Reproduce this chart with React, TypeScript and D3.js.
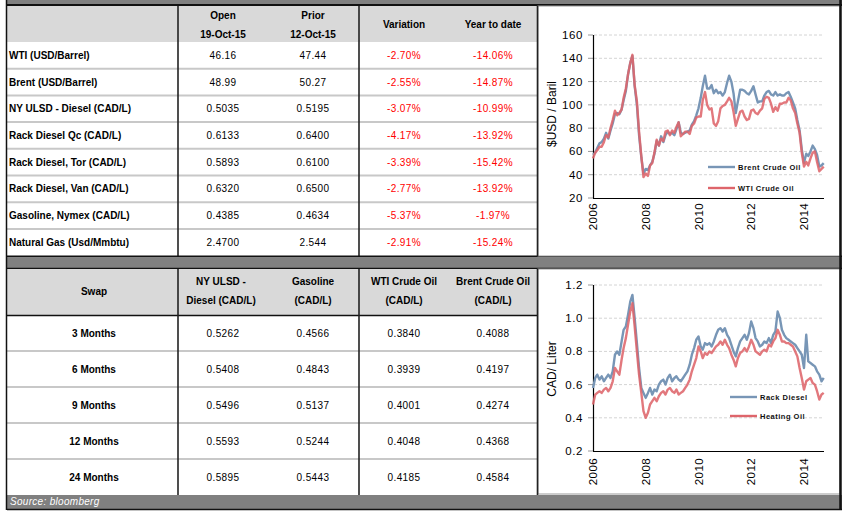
import React from "react";
import * as d3 from "d3";

// ---------- table data ----------
const priceNames = [
  "WTI (USD/Barrel)",
  "Brent (USD/Barrel)",
  "NY ULSD - Diesel (CAD/L)",
  "Rack Diesel Qc (CAD/L)",
  "Rack Diesel, Tor (CAD/L)",
  "Rack Diesel, Van (CAD/L)",
  "Gasoline, Nymex (CAD/L)",
  "Natural Gas (Usd/Mmbtu)",
];
const openValues = ["46.16", "48.99", "0.5035", "0.6133", "0.5893", "0.6320", "0.4385", "2.4700"];
const priorValues = ["47.44", "50.27", "0.5195", "0.6400", "0.6100", "0.6500", "0.4634", "2.544"];
const variationValues = ["-2.70%", "-2.55%", "-3.07%", "-4.17%", "-3.39%", "-2.77%", "-5.37%", "-2.91%"];
const ytdValues = ["-14.06%", "-14.87%", "-10.99%", "-13.92%", "-15.42%", "-13.92%", "-1.97%", "-15.24%"];
const priceHeaders = [["Open", "19-Oct-15"], ["Prior", "12-Oct-15"], ["Variation"], ["Year to date"]];

const swapTerms = ["3 Months", "6 Months", "9 Months", "12 Months", "24 Months"];
const swapUlsd = ["0.5262", "0.5408", "0.5496", "0.5593", "0.5895"];
const swapGasoline = ["0.4566", "0.4843", "0.5137", "0.5244", "0.5443"];
const swapWti = ["0.3840", "0.3939", "0.4001", "0.4048", "0.4185"];
const swapBrent = ["0.4088", "0.4197", "0.4274", "0.4368", "0.4584"];
const swapHeaders = [["NY ULSD -", "Diesel (CAD/L)"], ["Gasoline", "(CAD/L)"], ["WTI Crude Oil", "(CAD/L)"], ["Brent Crude Oil", "(CAD/L)"]];

// ---------- chart data (monthly, starting Jan 2006 on the chart axis) ----------
const brent = [
  57, 59, 63, 67, 68, 71, 76, 71, 78, 84, 92, 93,
  92, 96, 104, 112, 126, 136, 142, 116, 100, 74, 55, 41,
  45, 44, 48, 51, 58, 69, 65, 73, 68, 74, 77, 75,
  76, 74, 79, 85, 76, 75, 76, 77, 78, 83, 86, 91,
  97, 106, 116, 125, 114, 114, 117, 110, 113, 110, 111, 108,
  111, 119, 125, 120, 110, 93, 103, 113, 113, 112, 110, 109,
  112, 116, 109, 102, 103, 103, 108, 111, 112, 109, 108, 111,
  108, 109, 108, 108, 110, 111, 107, 102, 97, 87, 78, 62,
  50, 58, 56, 60, 65, 62, 57, 47, 48, 50,
];
const wti = [
  54, 59, 61, 64, 64, 68, 74, 72, 80, 87, 95, 91,
  93, 96, 106, 114, 126, 136, 143, 117, 103, 77, 56, 38,
  41, 39, 48, 50, 59, 70, 65, 71, 69, 77, 78, 74,
  78, 76, 81, 85, 73, 75, 77, 77, 75, 82, 84, 89,
  90, 90, 104, 111, 100, 96, 97, 84, 82, 86, 97, 99,
  100, 103, 106, 103, 94, 82, 88, 94, 95, 90, 87, 88,
  95, 96, 93, 92, 95, 97, 105, 107, 106, 101, 94, 98,
  95, 101, 101, 102, 102, 106, 104, 97, 93, 84, 76, 59,
  47, 51, 48, 54, 59, 60, 51, 43, 45, 47,
];
const rackDiesel = [
  0.58, 0.64, 0.66, 0.63, 0.65, 0.62, 0.64, 0.66, 0.64, 0.68, 0.78, 0.80,
  0.78, 0.86, 0.93, 0.95, 1.02, 1.10, 1.14, 1.00, 0.85, 0.70, 0.58, 0.55,
  0.52, 0.55, 0.58, 0.54, 0.57, 0.56, 0.60, 0.62, 0.63, 0.60, 0.64, 0.66,
  0.62, 0.64, 0.65, 0.63, 0.62, 0.64, 0.66, 0.68, 0.72, 0.78, 0.82, 0.87,
  0.89, 0.83, 0.81, 0.85, 0.84, 0.85, 0.83, 0.86, 0.90, 0.93, 0.94, 0.92,
  0.94, 0.90, 0.88, 0.84, 0.80, 0.77, 0.82, 0.86, 0.88, 0.90, 0.87, 0.91,
  0.98, 0.94, 0.88, 0.86, 0.83, 0.84, 0.86, 0.85, 0.88, 0.85, 0.90, 0.92,
  1.04, 1.00, 0.93, 0.90, 0.88, 0.87, 0.86, 0.85, 0.84, 0.82, 0.80, 0.78,
  0.70, 0.90, 0.74, 0.73, 0.72, 0.71, 0.68, 0.66, 0.62, 0.64,
];
const heatingOil = [
  0.48, 0.54, 0.55, 0.56, 0.55, 0.57, 0.58, 0.56, 0.58, 0.62, 0.70, 0.68,
  0.66, 0.75, 0.82, 0.88, 0.96, 1.04, 1.09, 0.95, 0.80, 0.66, 0.55, 0.44,
  0.40, 0.43, 0.48, 0.50, 0.52, 0.50, 0.53, 0.55, 0.56, 0.54, 0.57, 0.58,
  0.56, 0.55, 0.57, 0.54, 0.55, 0.56, 0.58, 0.60, 0.63, 0.68, 0.72, 0.76,
  0.83, 0.80, 0.76, 0.79, 0.78, 0.80, 0.79, 0.81, 0.83, 0.84, 0.86, 0.84,
  0.87, 0.84, 0.82, 0.78, 0.75, 0.71, 0.76, 0.79, 0.80, 0.82, 0.80, 0.83,
  0.87, 0.84, 0.80, 0.79, 0.78, 0.80, 0.81, 0.80, 0.84, 0.83, 0.86, 0.88,
  0.93, 0.90, 0.86, 0.86, 0.85, 0.85, 0.84, 0.83, 0.80, 0.77, 0.70, 0.64,
  0.57, 0.62, 0.63, 0.64, 0.61, 0.60, 0.56, 0.51, 0.54, 0.55,
];
const xTickYears = [2006, 2008, 2010, 2012, 2014];
const topYTicks = [20, 40, 60, 80, 100, 120, 140, 160];
const bottomYTicks = [0.2, 0.4, 0.6, 0.8, 1.0, 1.2];
const topLegend = ["Brent Crude Oil", "WTI Crude Oil"];
const bottomLegend = ["Rack Diesel", "Heating Oil"];

const FONT = "'Liberation Sans', Arial, sans-serif";
const BLUE = "#7896b6";
const RED = "#de656b";

type ChartProps = {
  top: number;
  height: number;
  yDomain: [number, number];
  yRange: [number, number];
  yTicks: number[];
  fmt: (v: number) => string;
  s1: number[];
  s2: number[];
  legend: string[];
  legendY: [number, number];
  legendX: number;
  yLabel: string;
  yLabelCenter: number;
  xLabelY: number;
};

function LineChart(p: ChartProps) {
  const x = d3
    .scaleTime()
    .domain([new Date(2006, 0, 1), new Date(2014, 0, 1)])
    .range([593, 804]);
  const y = d3.scaleLinear().domain(p.yDomain).range(p.yRange);
  const dates = p.s1.map((_, i) => new Date(2006, i, 1));
  const line = d3
    .line<number>()
    .x((_, i) => x(dates[i]))
    .y((d) => y(d))
    .curve(d3.curveLinear);
  const xRight = 824;
  const yBottom = p.yRange[0];
  const yTop = p.yRange[1];
  return (
    <g>
      <rect x={538} y={p.top} width={302} height={p.height} fill="#fff" stroke="#9a9a9a" strokeWidth={1} />
      {p.yTicks.slice(1).map((t) => (
        <line key={"g" + t} x1={594} x2={xRight} y1={y(t)} y2={y(t)} stroke="#d4d4d4" strokeDasharray="3,2" strokeWidth={1} />
      ))}
      {p.yTicks.map((t) => (
        <g key={"t" + t}>
          <line x1={588} x2={593} y1={y(t)} y2={y(t)} stroke="#999" strokeWidth={1} />
          <text x={583} y={y(t) + 4} textAnchor="end" fontSize={11.5} fontFamily={FONT} letterSpacing={0.6} fill="#000">
            {p.fmt(t)}
          </text>
        </g>
      ))}
      <line x1={593.5} x2={593.5} y1={yTop} y2={yBottom} stroke="#000" strokeWidth={1.2} />
      <line x1={593} x2={xRight} y1={yBottom + 0.5} y2={yBottom + 0.5} stroke="#000" strokeWidth={1.2} />
      {xTickYears.map((yr) => {
        const xx = x(new Date(yr, 0, 1));
        return (
          <text
            key={"x" + yr}
            transform={`translate(${xx + 4},${p.xLabelY}) rotate(-90)`}
            textAnchor="end"
            fontSize={11.5}
            fontFamily={FONT}
            letterSpacing={0.4}
            fill="#000"
          >
            {yr}
          </text>
        );
      })}
      <text
        transform={`translate(556,${p.yLabelCenter}) rotate(-90)`}
        textAnchor="middle"
        fontSize={12}
        fontFamily={FONT}
        fill="#000"
      >
        {p.yLabel}
      </text>
      <path d={line(p.s1) || ""} fill="none" stroke={BLUE} strokeWidth={2.4} strokeLinejoin="round" />
      <path d={line(p.s2) || ""} fill="none" stroke={RED} strokeWidth={2.4} strokeLinejoin="round" opacity={0.88} />
      {p.legend.map((lab, i) => (
        <g key={lab}>
          <line
            x1={p.legendX}
            x2={p.legendX + 27}
            y1={p.legendY[i]}
            y2={p.legendY[i]}
            stroke={i === 0 ? BLUE : RED}
            strokeWidth={2.4}
          />
          <text x={p.legendX + 30} y={p.legendY[i] + 2.5} fontSize={7.5} fontWeight="bold" fontFamily={FONT} letterSpacing={0.5} fill="#111">
            {lab}
          </text>
        </g>
      ))}
    </g>
  );
}

export default function App() {
  const L = 7;
  const R = 840;
  const TR = 537;
  const colCenters = [223, 313, 404, 493];
  const dividers = [178, 359];
  const topRowY0 = 42;
  const topRowH = 26.7;
  const botRowY0 = 315;
  const botRowH = 36;
  const priceCols = [openValues, priorValues, variationValues, ytdValues];
  const swapCols = [swapUlsd, swapGasoline, swapWti, swapBrent];

  return (
    <svg width={849} height={514} style={{ position: "absolute", left: 0, top: 0, background: "#fff" }} fontFamily={FONT}>
      {/* top gray band */}
      <rect x={L} y={0} width={R - L + 2} height={4.5} fill="#808080" />
      <line x1={L} x2={R + 2} y1={5} y2={5} stroke="#111" strokeWidth={1.8} />

      {/* price table */}
      <rect x={L} y={6} width={TR - L} height={36} fill="#d9d9d9" />
      {priceNames.slice(1).map((_, i) => (
        <line key={"ps" + i} x1={L} x2={TR} y1={topRowY0 + topRowH * (i + 1)} y2={topRowY0 + topRowH * (i + 1)} stroke="#c8c8c8" strokeWidth={2} />
      ))}
      {dividers.map((d) => (
        <line key={"pd" + d} x1={d} x2={d} y1={6} y2={256} stroke="#222" strokeWidth={1.6} />
      ))}
      {priceHeaders.map((h, j) =>
        h.length === 2 ? (
          <g key={"ph" + j}>
            <text x={colCenters[j]} y={18.5} textAnchor="middle" fontSize={10} fontWeight="bold" fill="#000">{h[0]}</text>
            <text x={colCenters[j]} y={38} textAnchor="middle" fontSize={10} fontWeight="bold" fill="#000">{h[1]}</text>
          </g>
        ) : (
          <text key={"ph" + j} x={colCenters[j]} y={28} textAnchor="middle" fontSize={10} fontWeight="bold" fill="#000">{h[0]}</text>
        )
      )}
      {priceNames.map((name, i) => {
        const cy = topRowY0 + topRowH * (i + 0.5) + 3.5;
        return (
          <g key={name}>
            <text x={9} y={cy} fontSize={10} fontWeight="bold" fill="#000">{name}</text>
            {priceCols.map((col, j) => (
              <text key={j} x={colCenters[j]} y={cy} textAnchor="middle" fontSize={10} letterSpacing={0.4} fill={j >= 2 ? "#ff0000" : "#000"}>
                {col[i]}
              </text>
            ))}
          </g>
        );
      })}

      {/* middle gray band */}
      <line x1={L} x2={R + 2} y1={256.5} y2={256.5} stroke="#111" strokeWidth={1.8} />
      <rect x={L} y={257.5} width={R - L + 2} height={10.5} fill="#808080" />
      <line x1={L} x2={R + 2} y1={268.5} y2={268.5} stroke="#111" strokeWidth={1.6} />

      {/* swap table */}
      <rect x={L} y={269} width={TR - L} height={46} fill="#d9d9d9" />
      <line x1={L} x2={TR} y1={315.5} y2={315.5} stroke="#111" strokeWidth={1.6} />
      {swapTerms.slice(1).map((_, i) => (
        <line key={"ss" + i} x1={L} x2={TR} y1={botRowY0 + botRowH * (i + 1)} y2={botRowY0 + botRowH * (i + 1)} stroke="#c8c8c8" strokeWidth={2} />
      ))}
      {dividers.map((d) => (
        <line key={"sd" + d} x1={d} x2={d} y1={269} y2={495} stroke="#222" strokeWidth={1.6} />
      ))}
      <text x={94} y={295} textAnchor="middle" fontSize={10} fontWeight="bold" fill="#000">Swap</text>
      {swapHeaders.map((h, j) => (
        <g key={"sh" + j}>
          <text x={colCenters[j] - (j === 0 ? 2 : 0)} y={285} textAnchor="middle" fontSize={10} fontWeight="bold" fill="#000">{h[0]}</text>
          <text x={colCenters[j] - (j === 0 ? 2 : 0)} y={304} textAnchor="middle" fontSize={10} fontWeight="bold" fill="#000">{h[1]}</text>
        </g>
      ))}
      {swapTerms.map((term, i) => {
        const cy = botRowY0 + botRowH * (i + 0.5) + 3.5;
        return (
          <g key={term}>
            <text x={94} y={cy} textAnchor="middle" fontSize={10} fontWeight="bold" fill="#000">{term}</text>
            {swapCols.map((col, j) => (
              <text key={j} x={colCenters[j]} y={cy} textAnchor="middle" fontSize={10} letterSpacing={0.4} fill="#000">
                {col[i]}
              </text>
            ))}
          </g>
        );
      })}

      {/* charts */}
      <LineChart
        top={6}
        height={250}
        yDomain={[20, 160]}
        yRange={[198, 35]}
        yTicks={topYTicks}
        fmt={(v) => String(v)}
        s1={brent}
        s2={wti}
        legend={topLegend}
        legendY={[167, 188]}
        legendX={708}
        yLabel="$USD / Baril"
        yLabelCenter={114}
        xLabelY={203}
      />
      <LineChart
        top={269}
        height={225}
        yDomain={[0.2, 1.2]}
        yRange={[451, 285]}
        yTicks={bottomYTicks}
        fmt={(v) => v.toFixed(1)}
        s1={rackDiesel}
        s2={heatingOil}
        legend={bottomLegend}
        legendY={[397, 416]}
        legendX={730}
        yLabel="CAD/ Liter"
        yLabelCenter={369}
        xLabelY={458}
      />

      {/* table right edge */}
      <line x1={537.5} x2={537.5} y1={6} y2={256} stroke="#222" strokeWidth={1.6} />
      <line x1={537.5} x2={537.5} y1={269} y2={495} stroke="#222" strokeWidth={1.6} />

      {/* bottom source band */}
      <rect x={L} y={495} width={R - L + 2} height={14} fill="#808080" />
      <text x={10} y={505} fontSize={10} fontStyle="italic" fill="#fff" letterSpacing={0.3}>Source: bloomberg</text>
      <line x1={L} x2={R + 2} y1={509.5} y2={509.5} stroke="#111" strokeWidth={1.5} />

      {/* frame */}
      <line x1={6.5} x2={6.5} y1={0} y2={510} stroke="#111" strokeWidth={1.5} />
      <line x1={840.5} x2={840.5} y1={0} y2={510} stroke="#111" strokeWidth={2.5} />
    </svg>
  );
}
